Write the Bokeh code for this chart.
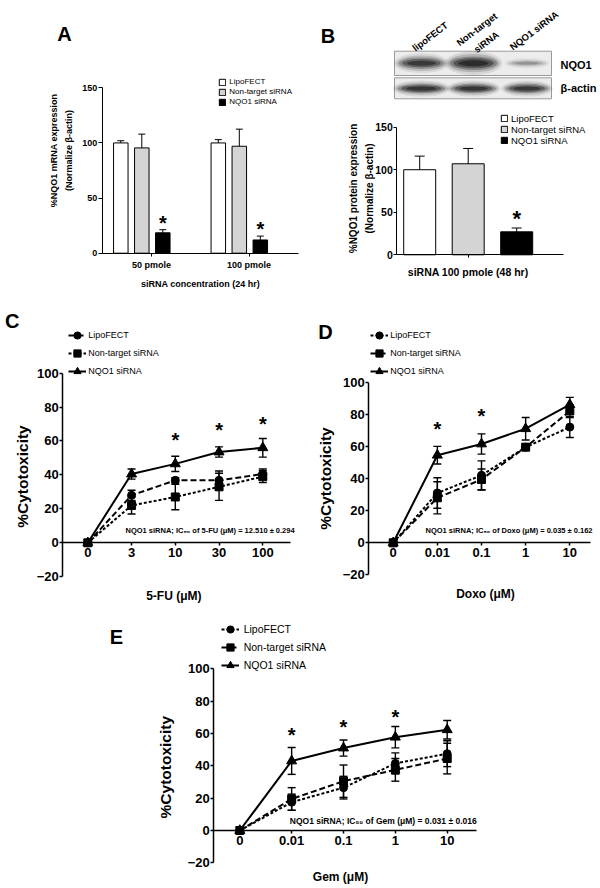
import math
from bokeh.plotting import figure
from bokeh.models import (Range1d, FixedTicker, Legend, LegendItem, Label,
                          ColumnDataSource, Whisker, TeeHead)
from bokeh.layouts import row, column
from bokeh.embed import file_html
from bokeh.resources import INLINE
from bokeh.core.properties import value

FONT = "Liberation Sans"

# ---------------------------------------------------------------- data
series = ["LipoFECT", "Non-target siRNA", "NQO1 siRNA"]
bar_colors = ["#ffffff", "#d4d4d4", "#000000"]

# Panel A: NQO1 mRNA expression
A_groups = ["50 pmole", "100 pmole"]
A_lipo = [100, 100]
A_lipo_err = [2, 3]
A_nontarget = [95.5, 97]
A_nontarget_err = [12.5, 15.5]
A_nqo1 = [18.5, 12]
A_nqo1_err = [2.8, 3.5]
A_star = [30.5, 24.5]
A_yticks = [0, 50, 100, 150]

# Panel B: NQO1 protein expression + blot
B_group = ["siRNA 100 pmole (48 hr)"]
B_values = [100, 107, 27]
B_err = [16, 18, 4.5]
B_star = [46]
B_yticks = [0, 50, 100, 150]
B_lanes = ["lipoFECT", "Non-target\nsiRNA", "NQO1 siRNA"]
B_blot_rows = ["NQO1", "β-actin"]
B_nqo1_band = [0.85, 1.0, 0.3]
B_actin_band = [0.9, 0.88, 0.85]

# Panel C: 5-FU
C_doses = ["0", "3", "10", "30", "100"]
C_lipo = [0, 28, 36.8, 36.8, 40.5]
C_lipo_err = [0, 3, 1.5, 5.5, 3]
C_nontarget = [0, 22, 27, 33, 39]
C_nontarget_err = [0, 5, 7.5, 8, 3.5]
C_nqo1 = [0, 40.5, 46.5, 53.5, 56]
C_nqo1_err = [0, 3, 4.5, 3, 5.5]
C_star_x = [2, 3, 4]
C_star_y = [62.2, 68, 71.6]
C_note = "NQO1 siRNA; IC₅₀ of 5-FU (μM) = 12.510 ± 0.294"

# Panel D: Doxo
D_doses = ["0", "0.01", "0.1", "1", "10"]
D_lipo = [0, 31, 42, 59.5, 72]
D_lipo_err = [0, 9.5, 9, 1.5, 6.5]
D_nontarget = [0, 28, 39.4, 59.5, 82]
D_nontarget_err = [0, 10, 6.5, 1.5, 4]
D_nqo1 = [0, 54.5, 61.5, 71, 86]
D_nqo1_err = [0, 5.5, 6.3, 7, 4.5]
D_star_x = [1, 2]
D_star_y = [72.7, 80.5]
D_note = "NQO1 siRNA; IC₅₀ of Doxo (μM) = 0.035 ± 0.162"

# Panel E: Gem
E_doses = ["0", "0.01", "0.1", "1", "10"]
E_lipo = [0, 17.5, 26.5, 41.5, 47.5]
E_lipo_err = [0, 5, 7, 6.5, 8]
E_nontarget = [0, 19.5, 30.5, 37.5, 44.5]
E_nontarget_err = [0, 7, 10, 7, 9.5]
E_nqo1 = [0, 43, 51, 57.7, 62.3]
E_nqo1_err = [0, 8.3, 5, 6.6, 5.7]
E_star_x = [1, 2, 3]
E_star_y = [60.8, 65.6, 72.2]
E_note = "NQO1 siRNA; IC₅₀ of Gem (μM) = 0.031 ± 0.016"

cyto_yticks = [-20, 0, 20, 40, 60, 80, 100]


# ---------------------------------------------------------------- helpers
def make_panel(px, py, w, h, x0px, xppu, y0px, yppu):
    """Figure whose frame fills the whole figure; page-pixel geometry -> data ranges."""
    fl, fr, ft, fb = px, px + w, py, py + h
    p = figure(width=w, height=h,
               x_range=Range1d((fl - x0px) / xppu, (fr - x0px) / xppu),
               y_range=Range1d((y0px - fb) / yppu, (y0px - ft) / yppu),
               output_backend="svg", toolbar_location=None, tools="",
               min_border_left=0, min_border_right=0,
               min_border_top=0, min_border_bottom=0)
    p.outline_line_color = None
    p.background_fill_color = "white"
    p.border_fill_color = "white"
    p.xgrid.visible = False
    p.ygrid.visible = False
    g = dict(fl=fl, fr=fr, ft=ft, fb=fb, x0=x0px, xs=xppu, y0=y0px, ys=yppu)
    return p, g


def dx(g, page_x):
    return (page_x - g["x0"]) / g["xs"]


def dy(g, page_y):
    return (g["y0"] - page_y) / g["ys"]


def style_axis(ax, size, tick_out, standoff, lw=1.0):
    ax.axis_line_color = "black"
    ax.axis_line_width = lw
    ax.major_tick_line_color = "black"
    ax.major_tick_line_width = lw
    ax.major_tick_out = tick_out
    ax.major_tick_in = 0
    ax.minor_tick_line_color = None
    ax.major_label_text_font = FONT
    ax.major_label_text_font_style = "bold"
    ax.major_label_text_font_size = f"{size}px"
    ax.major_label_text_color = "black"
    ax.major_label_standoff = standoff


def setup_axes(p, g, yaxis_px, yticks, x_ticks, x_labels, x_end_px, tick_size,
               ytick_out, ystandoff, xtick_out, xstandoff, lw):
    style_axis(p.yaxis[0], tick_size, ytick_out, ystandoff, lw)
    p.yaxis.fixed_location = dx(g, yaxis_px)
    p.yaxis.ticker = FixedTicker(ticks=yticks)
    p.yaxis.bounds = (yticks[0], yticks[-1])
    style_axis(p.xaxis[0], tick_size, xtick_out, xstandoff, lw)
    p.xaxis.fixed_location = 0
    p.xaxis.ticker = FixedTicker(ticks=x_ticks)
    p.xaxis.major_label_overrides = {t: s for t, s in zip(x_ticks, x_labels)}
    p.xaxis.bounds = (dx(g, yaxis_px), dx(g, x_end_px))


def label(p, g, page_x, page_y, text, size, bold=True, align="center",
          baseline="middle", angle=0.0):
    p.add_layout(Label(x=dx(g, page_x), y=dy(g, page_y), text=text,
                       text_font=FONT, text_font_size=f"{size}px",
                       text_font_style="bold" if bold else "normal",
                       text_align=align, text_baseline=baseline,
                       angle=angle, text_color="black"))


def add_legend(p, g, rends, glyph_w, glyph_h, row_h, spacing, font_size,
               standoff, glyph_left_px, first_center_px):
    n = len(series)
    item_h = max(glyph_h, row_h)
    total_h = n * item_h + (n - 1) * spacing
    top = first_center_px - item_h / 2.0
    leg = Legend(items=[LegendItem(label=s, renderers=r) for s, r in zip(series, rends)],
                 location=(glyph_left_px - g["fl"], g["fb"] - (top + total_h)),
                 glyph_width=glyph_w, glyph_height=glyph_h, label_height=row_h,
                 label_width=10, spacing=spacing, padding=0, margin=0,
                 label_standoff=standoff, label_text_font=FONT,
                 label_text_font_size=f"{font_size}px", label_text_color="black",
                 border_line_color=None, background_fill_alpha=0)
    p.add_layout(leg)


def stars(p, xs, ys, size):
    p.text(x=xs, y=ys, text=["*"] * len(xs), text_font=value(FONT),
           text_font_size=f"{size}px", text_font_style="bold", text_color="black",
           text_align="center", text_baseline="alphabetic", y_offset=round(0.15 * size))


# ---------------------------------------------------------------- Panel A
pA, gA = make_panel(0, 0, 300, 300, 151.0, 97.5, 252.7, 165.4 / 150)
bwA = 14.5 / 97.5
shiftA = (141.3 - 151.0) / 97.5
offA = [-21 / 97.5, 0.0, 21 / 97.5]
A_vals = [A_lipo, A_nontarget, A_nqo1]
A_errs = [A_lipo_err, A_nontarget_err, A_nqo1_err]
rendsA = []
for k in range(3):
    xs = [i + shiftA + offA[k] for i in range(len(A_groups))]
    r = pA.vbar(x=xs, top=A_vals[k], bottom=0, width=bwA, fill_color=bar_colors[k],
                line_color="black", line_width=1)
    rendsA.append([r])
    src = ColumnDataSource(dict(base=xs, lower=A_vals[k],
                                upper=[v + e for v, e in zip(A_vals[k], A_errs[k])]))
    pA.add_layout(Whisker(source=src, base="base", lower="lower", upper="upper",
                          dimension="height", line_width=1, level="overlay",
                          upper_head=TeeHead(size=7, line_width=1), lower_head=None))
stars(pA, [i + shiftA + offA[2] for i in range(len(A_groups))], A_star, 20)
setup_axes(pA, gA, 101.7, A_yticks, list(range(len(A_groups))), A_groups, 297.7,
           9, 4, 1, 3, 4, 1.0)
add_legend(pA, gA, rendsA, 8, 8, 10, 0, 8, 3, 218.3, 81.7)
label(pA, gA, 64, 33.7, "A", 20)
label(pA, gA, 53.3, 150, "%NQO1 mRNA expression", 9, angle=math.pi / 2)
label(pA, gA, 68.3, 150, "(Normalize β-actin)", 9, angle=math.pi / 2)
label(pA, gA, 200, 283, "siRNA concentration (24 hr)", 9)

# ---------------------------------------------------------------- Panel B
pB, gB = make_panel(300, 0, 300, 300, 419.2, 48.5, 254.3, 127.6 / 150)
bwB = 32 / 48.5
rendsB = []
for k in range(3):
    r = pB.vbar(x=[k], top=[B_values[k]], bottom=0, width=bwB, fill_color=bar_colors[k],
                line_color="black", line_width=1)
    rendsB.append([r])
srcB = ColumnDataSource(dict(base=list(range(3)), lower=B_values,
                             upper=[v + e for v, e in zip(B_values, B_err)]))
pB.add_layout(Whisker(source=srcB, base="base", lower="lower", upper="upper",
                      dimension="height", line_width=1, level="overlay",
                      upper_head=TeeHead(size=10, line_width=1), lower_head=None))
stars(pB, [2], B_star, 22)
setup_axes(pB, gB, 396.3, B_yticks, [1], B_group, 563, 10.5, 3, 1, 3, 8, 1.0)
add_legend(pB, gB, rendsB, 8, 8, 11, 0, 9.5, 3, 500, 118.3)
label(pB, gB, 327.5, 35, "B", 20)
label(pB, gB, 353, 188, "%NQO1 protein expression", 10, angle=math.pi / 2)
label(pB, gB, 368.5, 188, "(Normalize β-actin)", 10, angle=math.pi / 2)

# western blot picture (layout in page pixels, band strengths from data)
lane_px = [421, 473, 526.5]
lane_x = [dx(gB, v) for v in lane_px]
row_boxes_px = [(50.7, 75.0), (77.3, 98.3)]
pB.quad(left=[dx(gB, 394)] * 2, right=[dx(gB, 551)] * 2,
        top=[dy(gB, t) for t, b in row_boxes_px], bottom=[dy(gB, b) for t, b in row_boxes_px],
        fill_color="#ececec", line_color="#9a9a9a", line_width=1)
band_rows = [(B_nqo1_band, 62.7, [48, 50, 40], [11, 13, 6]),
             (B_actin_band, 88.0, [50, 47, 45], [9, 9, 9])]
band_layers = [(1.15, 1.8, 0.10), (1.05, 1.4, 0.18), (0.95, 1.05, 0.30),
               (0.8, 0.75, 0.45), (0.6, 0.45, 0.6)]
for inten, cy, wpx, hpx in band_rows:
    for sw, sh, a in band_layers:
        pB.ellipse(x=lane_x, y=[dy(gB, cy)] * 3,
                   width=[w * sw / gB["xs"] for w in wpx],
                   height=[h * sh / gB["ys"] for h in hpx],
                   fill_color="#141414", fill_alpha=[a * v for v in inten], line_color=None)
lane_label_px = [(429.5, 36.0), (481.0, 35.0), (533.5, 30.0)]
pB.text(x=[dx(gB, a) for a, b in lane_label_px], y=[dy(gB, b) for a, b in lane_label_px],
        text=B_lanes, angle=math.radians(37), text_align="center", text_baseline="middle",
        text_font=value(FONT), text_font_size="9.5px", text_font_style="bold",
        text_line_height=1.45, text_color="black")
pB.text(x=[dx(gB, 560)] * 2, y=[dy(gB, 64), dy(gB, 87.5)], text=B_blot_rows,
        text_align="left", text_baseline="middle", text_font=value(FONT),
        text_font_size="11px", text_font_style="bold", text_color="black")


# ---------------------------------------------------------------- dose-response panels
def dose_panel(p, g, doses, ys, errs, dashes, star_x, star_y, note, note_px, note_size,
               yaxis_px, axis_end_px, tick_size, legend_font, legend_left_px, legend_top_px,
               legend_standoff, letter, letter_px, ytitle_px, xtitle, xtitle_px, ytitle_size):
    xs = list(range(len(doses)))
    markers = ["circle", "square", "triangle"]
    msize = [8, 8, 10]
    lines = []
    for k in range(3):
        lines.append(p.line(xs, ys[k], line_color="black", line_width=2, line_dash=dashes[k]))
    for k in range(3):
        keep = [i for i in xs if errs[k][i] > 0]
        src = ColumnDataSource(dict(base=[xs[i] for i in keep],
                                    lower=[ys[k][i] - errs[k][i] for i in keep],
                                    upper=[ys[k][i] + errs[k][i] for i in keep]))
        p.add_layout(Whisker(source=src, base="base", lower="lower", upper="upper",
                             dimension="height", line_width=1.4, line_color="black",
                             upper_head=TeeHead(size=8, line_width=1.4),
                             lower_head=TeeHead(size=8, line_width=1.4)))
    rends = []
    for k in range(3):
        sr = p.scatter(xs, ys[k], marker=markers[k], size=msize[k],
                       fill_color="black", line_color="black")
        rends.append([lines[k], sr])
    stars(p, star_x, star_y, 20)
    setup_axes(p, g, yaxis_px, cyto_yticks, xs, doses, axis_end_px, tick_size,
               3, 1, 3, 2, 1.5)
    add_legend(p, g, rends, 18, 18, 14, -4, legend_font, legend_standoff,
               legend_left_px, legend_top_px)
    label(p, g, note_px[0], note_px[1], note, note_size, align="left")
    label(p, g, letter_px[0], letter_px[1], letter, 20)
    label(p, g, ytitle_px[0], ytitle_px[1], "%Cytotoxicity", ytitle_size, angle=math.pi / 2)
    label(p, g, xtitle_px[0], xtitle_px[1], xtitle, 12)


pC, gC = make_panel(0, 300, 300, 307, 87.3, 43.75, 542.3, 1.697)
dose_panel(pC, gC, C_doses, [C_lipo, C_nontarget, C_nqo1],
           [C_lipo_err, C_nontarget_err, C_nqo1_err], ["6 3", "3 2", "solid"],
           C_star_x, C_star_y, C_note, (125, 530), 7.5, 62.3, 290, 13, 9, 68.3, 343.3, 2,
           "C", (11.7, 320), (21.7, 476), "5-FU (μM)", (173.3, 595), 15.5)

pD, gD = make_panel(300, 300, 300, 307, 392.7, 44.15, 542.3, 1.607)
dose_panel(pD, gD, D_doses, [D_lipo, D_nontarget, D_nqo1],
           [D_lipo_err, D_nontarget_err, D_nqo1_err], ["3 2", "6 3", "solid"],
           D_star_x, D_star_y, D_note, (425, 530), 7.5, 368.3, 590, 13, 9, 370.3, 343.3, 2,
           "D", (325, 331.7), (325, 478), "Doxo (μM)", (485, 593.3), 15.5)

pE, gE = make_panel(0, 607, 600, 281, 239.3, 51.85, 830.0, 1.617)
dose_panel(pE, gE, E_doses, [E_lipo, E_nontarget, E_nqo1],
           [E_lipo_err, E_nontarget_err, E_nqo1_err], ["3 2", "6 3", "solid"],
           E_star_x, E_star_y, E_note, (289.3, 820), 8.5, 213.3, 476, 13, 10.5, 220.7, 636.7, 5,
           "E", (116, 636), (165, 766.7), "Gem (μM)", (340, 876.7), 15.5)

layout = column(row(pA, pB), row(pC, pD), pE)

open("out.html", "w").write(file_html(layout, INLINE))
